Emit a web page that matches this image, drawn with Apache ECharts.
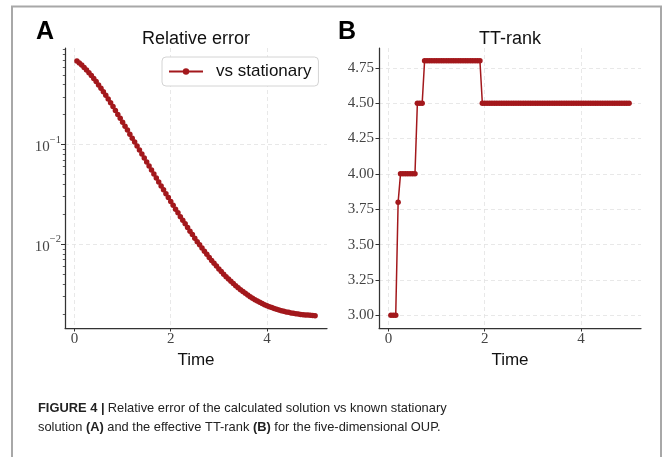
<!DOCTYPE html>
<html>
<head>
<meta charset="utf-8">
<script src="https://cdn.jsdelivr.net/npm/echarts@6/dist/echarts.min.js"></script>
<style>
html,body{margin:0;padding:0;background:#fff;}
#chart{width:665px;height:457px;}
</style>
</head>
<body>
<div id="chart"></div>
<script>
// ---- data ----
const time = [
0.05,0.10,0.15,0.20,0.25,0.30,0.35,0.40,0.45,0.50,
0.55,0.60,0.65,0.70,0.75,0.80,0.85,0.90,0.95,1.00,
1.05,1.10,1.15,1.20,1.25,1.30,1.35,1.40,1.45,1.50,
1.55,1.60,1.65,1.70,1.75,1.80,1.85,1.90,1.95,2.00,
2.05,2.10,2.15,2.20,2.25,2.30,2.35,2.40,2.45,2.50,
2.55,2.60,2.65,2.70,2.75,2.80,2.85,2.90,2.95,3.00,
3.05,3.10,3.15,3.20,3.25,3.30,3.35,3.40,3.45,3.50,
3.55,3.60,3.65,3.70,3.75,3.80,3.85,3.90,3.95,4.00,
4.05,4.10,4.15,4.20,4.25,4.30,4.35,4.40,4.45,4.50,
4.55,4.60,4.65,4.70,4.75,4.80,4.85,4.90,4.95,5.00
];
const relErr = [
0.692,0.661,0.631,0.596,0.562,0.527,0.494,0.461,0.430,0.398,
0.368,0.340,0.313,0.287,0.263,0.241,0.220,0.201,0.184,0.168,
0.153,0.140,0.127,0.116,0.106,0.0966,0.0881,0.0804,0.0733,0.0668,
0.0610,0.0556,0.0507,0.0462,0.0422,0.0385,0.0352,0.0322,0.0294,0.0269,
0.0246,0.0225,0.0207,0.0189,0.0174,0.0160,0.0147,0.0135,0.0125,0.0115,
0.0106,0.00986,0.00914,0.00849,0.00791,0.00736,0.00687,0.00643,0.00603,0.00565,
0.00531,0.00500,0.00472,0.00447,0.00424,0.00403,0.00383,0.00366,0.00349,0.00334,
0.00321,0.00308,0.00297,0.00286,0.00277,0.00269,0.00261,0.00254,0.00247,0.00241,
0.00236,0.00231,0.00226,0.00222,0.00218,0.00215,0.00212,0.00209,0.00207,0.00204,
0.00202,0.00200,0.00199,0.00197,0.00196,0.00195,0.00194,0.00193,0.00192,0.00191
];
const ttRank = [
3.0,3.0,3.0,3.8,
4.0,4.0,4.0,4.0,4.0,4.0,4.0,
4.5,4.5,4.5,
4.8,4.8,4.8,4.8,4.8,4.8,4.8,4.8,
4.8,4.8,4.8,4.8,4.8,4.8,4.8,4.8,
4.8,4.8,4.8,4.8,4.8,4.8,4.8,4.8,
4.5,4.5,4.5,4.5,4.5,4.5,4.5,4.5,4.5,4.5,
4.5,4.5,4.5,4.5,4.5,4.5,4.5,4.5,4.5,4.5,
4.5,4.5,4.5,4.5,4.5,4.5,4.5,4.5,4.5,4.5,
4.5,4.5,4.5,4.5,4.5,4.5,4.5,4.5,4.5,4.5,
4.5,4.5,4.5,4.5,4.5,4.5,4.5,4.5,4.5,4.5,
4.5,4.5,4.5,4.5,4.5,4.5,4.5,4.5,4.5,4.5,
4.5,4.5
];
const seriesNameA = 'vs stationary';
const titleA = 'Relative error';
const titleB = 'TT-rank';
const xName = 'Time';
const xTicks = [0, 2, 4];
const logMajorTicks = [0.01, 0.1];
const logMinorTicks = [0.002,0.003,0.004,0.005,0.006,0.007,0.008,0.009,
                       0.02,0.03,0.04,0.05,0.06,0.07,0.08,0.09,
                       0.2,0.3,0.4,0.5,0.6,0.7,0.8,0.9];
const rankTicks = [3.00, 3.25, 3.50, 3.75, 4.00, 4.25, 4.50, 4.75];
const captionBold1 = 'FIGURE 4 |';
const captionLine1 = 'Relative error of the calculated solution vs known stationary';
const captionLine2 = ['solution ', '(A)', ' and the effective TT-rank ', '(B)', ' for the five-dimensional OUP.'];

// ---- style ----
const RED = '#a3181c';
const AXIS = '#333';
const LABEL = '#444';
const GRID = '#e2e2e2';
const SERIF = '"Liberation Serif", "Times New Roman", serif';
const SANS = '"Liberation Sans", Arial, sans-serif';

function fontAvailable(name) {
  const c = document.createElement('canvas').getContext('2d');
  const s = 'abcdefghijklmnopqrstuvwxyz ABCDEFG';
  c.font = '20px monospace';
  const w1 = c.measureText(s).width;
  c.font = '20px "' + name + '", monospace';
  return c.measureText(s).width !== w1;
}
const capFamily = fontAvailable('Liberation Sans Narrow') ? '"Liberation Sans Narrow"' : SANS;
// fit caption line 1 to the reference width (~409px)
const mctx = document.createElement('canvas').getContext('2d');
mctx.font = 'bold 15px ' + capFamily;
let w = mctx.measureText(captionBold1 + ' ').width;
mctx.font = '15px ' + capFamily;
w += mctx.measureText(captionLine1).width;
const capSize = Math.min(16, 15 * 409 / w);

const xAxisCommon = {
  type: 'value', min: -0.1975, max: 5.2475,
  axisLine: { show: true, onZero: false, lineStyle: { color: AXIS, width: 1.25 } },
  axisTick: { show: true, customValues: xTicks, length: 3.5, lineStyle: { color: AXIS, width: 1 } },
  axisLabel: { customValues: xTicks, fontFamily: SERIF, fontSize: 15, color: LABEL, margin: 4 },
  splitLine: { show: true, lineStyle: { color: GRID, type: [4, 3], width: 0.8 } },
  name: xName, nameLocation: 'middle', nameGap: 21,
  nameTextStyle: { fontFamily: SANS, fontSize: 17, color: '#111' }
};

const chart = echarts.init(document.getElementById('chart'), null, { renderer: 'canvas' });
const option = {
  animation: false,
  backgroundColor: '#fff',
  grid: [
    { left: 65, top: 48, width: 262, height: 280, containLabel: false },
    { left: 379, top: 48, width: 262, height: 280, containLabel: false }
  ],
  xAxis: [
    Object.assign({ gridIndex: 0 }, xAxisCommon),
    Object.assign({ gridIndex: 1 }, xAxisCommon)
  ],
  yAxis: [
    {
      type: 'log', gridIndex: 0, min: 0.00144, max: 0.934, logBase: 10, position: 'left', offset: 0,
      axisLine: { show: true, onZero: false, lineStyle: { color: AXIS, width: 1.25 } },
      axisTick: { show: true, customValues: logMajorTicks, length: 4, lineStyle: { color: AXIS, width: 1 } },
      axisLabel: {
        customValues: logMajorTicks, margin: 4,
        formatter: function (v) {
          const e = Math.round(Math.log10(v));
          return '{b|10}{s|' + (e < 0 ? '\u2212' + (-e) : e) + '}';
        },
        rich: {
          b: { fontFamily: SERIF, fontSize: 15, color: LABEL, verticalAlign: 'bottom', lineHeight: 20 },
          s: { fontFamily: SERIF, fontSize: 10.5, color: LABEL, verticalAlign: 'top', lineHeight: 20 }
        }
      },
      splitLine: { show: true, lineStyle: { color: GRID, type: [4, 3], width: 0.8 } }
    },
    {
      type: 'log', gridIndex: 0, min: 0.00144, max: 0.934, logBase: 10, position: 'left', offset: 0,
      axisLine: { show: false, onZero: false },
      axisTick: { show: true, customValues: logMinorTicks, length: 2.2, lineStyle: { color: AXIS, width: 0.8 } },
      axisLabel: { show: false },
      splitLine: { show: false }
    },
    {
      type: 'value', gridIndex: 1, min: 2.91, max: 4.89, position: 'left',
      axisLine: { show: true, onZero: false, lineStyle: { color: AXIS, width: 1.25 } },
      axisTick: { show: true, customValues: rankTicks, length: 3.5, lineStyle: { color: AXIS, width: 1 } },
      axisLabel: {
        customValues: rankTicks, margin: 5, fontFamily: SERIF, fontSize: 15, color: LABEL,
        formatter: function (v) { return Number(v).toFixed(2); }
      },
      splitLine: { show: true, lineStyle: { color: GRID, type: [4, 3], width: 0.8 } }
    }
  ],
  legend: {
    data: [seriesNameA],
    left: 162, top: 57,
    padding: [6, 7, 6, 6],
    itemWidth: 34, itemHeight: 8, itemGap: 0,
    borderColor: '#d4d4d4', borderWidth: 1, borderRadius: 4,
    backgroundColor: '#fff',
    textStyle: { fontFamily: SANS, fontSize: 17, color: '#111', padding: [0, 0, 0, 8] }
  },
  series: [
    {
      name: seriesNameA, type: 'line', xAxisIndex: 0, yAxisIndex: 0,
      data: time.map((t, i) => [t, relErr[i]]),
      symbol: 'circle', symbolSize: 5.5, showSymbol: true, showAllSymbol: true,
      lineStyle: { color: RED, width: 1.5 }, itemStyle: { color: RED },
      emphasis: { disabled: true }
    },
    {
      name: titleB, type: 'line', xAxisIndex: 1, yAxisIndex: 2,
      data: time.map((t, i) => [t, ttRank[i]]),
      symbol: 'circle', symbolSize: 5.5, showSymbol: true, showAllSymbol: true,
      lineStyle: { color: RED, width: 1.5 }, itemStyle: { color: RED },
      emphasis: { disabled: true }
    }
  ],
  graphic: [
    { type: 'polyline', shape: { points: [[12, 457], [12, 6.5], [661, 6.5], [661, 457]] },
      style: { stroke: '#a8a8a8', lineWidth: 2, fill: null }, silent: true },
    { type: 'text', x: 36, y: 32, silent: true,
      style: { text: 'A', font: 'bold 25px ' + SANS, fill: '#000', align: 'left', verticalAlign: 'middle' } },
    { type: 'text', x: 338, y: 32, silent: true,
      style: { text: 'B', font: 'bold 25px ' + SANS, fill: '#000', align: 'left', verticalAlign: 'middle' } },
    { type: 'text', x: 196, y: 39, silent: true,
      style: { text: titleA, font: '18px ' + SANS, fill: '#111', align: 'center', verticalAlign: 'middle' } },
    { type: 'text', x: 510, y: 39, silent: true,
      style: { text: titleB, font: '18px ' + SANS, fill: '#111', align: 'center', verticalAlign: 'middle' } },
    { type: 'text', x: 38, y: 418, silent: true,
      style: {
        text: '{b|' + captionBold1 + '} {n|' + captionLine1 + '}\n' +
              '{n|' + captionLine2[0] + '}{b|' + captionLine2[1] + '}{n|' + captionLine2[2] + '}{b|' +
              captionLine2[3] + '}{n|' + captionLine2[4] + '}',
        align: 'left', verticalAlign: 'middle',
        rich: {
          b: { fontFamily: capFamily, fontSize: capSize, fontWeight: 'bold', fill: '#222', color: '#222', lineHeight: 18.5 },
          n: { fontFamily: capFamily, fontSize: capSize, fill: '#222', color: '#222', lineHeight: 18.5 }
        }
      } }
  ]
};
chart.setOption(option);
</script>
</body>
</html>
